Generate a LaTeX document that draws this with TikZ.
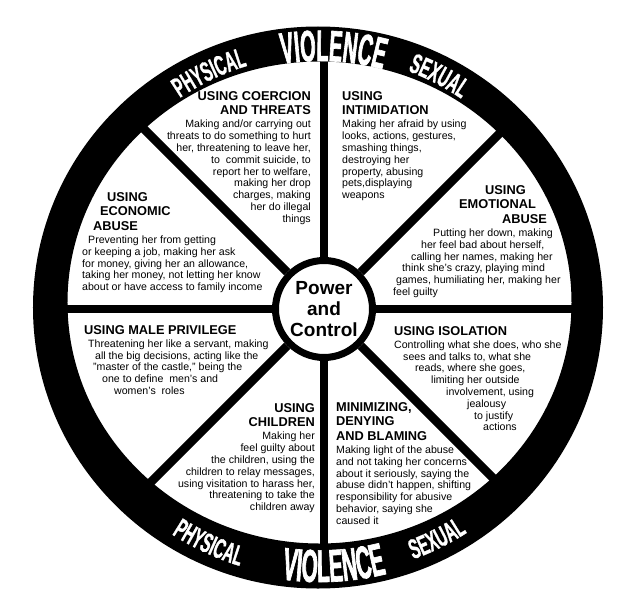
\documentclass[tikz,border=0pt]{standalone}
\usepackage{fontspec}
\setmainfont{Liberation Sans}
\newfontfamily\violencefont[FakeStretch=0.45,FakeBold=1.4]{Liberation Sans}
\newfontfamily\kindfont[FakeStretch=0.53,FakeBold=1]{Liberation Sans}
\usetikzlibrary{decorations.text}

\newcommand{\wedgehead}[1]{{\fontsize{12.8}{14.5}\selectfont\bfseries #1}}

\begin{document}
\begin{tikzpicture}[x=1pt, y=1pt,
  spoke/.style={line width=8.5pt},
  wedge/.style={inner sep=0pt, font=\fontsize{10.6}{11.8}\selectfont},
  ringword/.style={decorate, decoration={text along path, text align=center, text color=white, text={#1}}}]
  \useasboundingbox (-324,-291) rectangle (302,309);

  % Rim of the wheel
  \fill[even odd rule] (-6,1.5) ellipse [x radius=285, y radius=281]
    (-4.5,6.5) ellipse [x radius=252, y radius=241];
  \coordinate (wc) at (-4,4);

  % Hub
  \node[circle, draw, line width=7pt, minimum size=97pt, inner sep=0pt, align=center,
    font=\fontsize{19}{21}\selectfont\bfseries] (hub) at (0,0) {Power\\and\\Control};

  % Spokes
  \foreach \a in {0,45,...,315} {
    \coordinate (rim\a) at (\a:265);
    \draw[spoke] (hub) -- (rim\a);
  }

  % Lettering on the rim (top)
  \path[ringword={|\violencefont\bfseries\fontsize{44}{44}\selectfont|VIOLENCE}]
    ([shift={(wc)}]127:244) arc [start angle=127, end angle=47, radius=244];
  \path[ringword={|\kindfont\bfseries\fontsize{28}{28}\selectfont|PHYSICAL}]
    ([shift={(wc)}]155.5:250) arc [start angle=155.5, end angle=75.5, radius=250];
  \path[ringword={|\kindfont\bfseries\fontsize{28}{28}\selectfont|SEXUAL}]
    ([shift={(wc)}]102.5:250) arc [start angle=102.5, end angle=22.5, radius=250];

  % Lettering on the rim (bottom)
  \path[ringword={|\violencefont\bfseries\fontsize{46}{46}\selectfont|VIOLENCE}]
    ([shift={(wc)}]-127:277) arc [start angle=-127, end angle=-47, radius=277];
  \path[ringword={|\kindfont\bfseries\fontsize{28}{28}\selectfont|PHYSICAL}]
    ([shift={(wc)}]-155:273) arc [start angle=-155, end angle=-75, radius=273];
  \path[ringword={|\kindfont\bfseries\fontsize{28}{28}\selectfont|SEXUAL}]
    ([shift={(wc)}]-103.5:271) arc [start angle=-103.5, end angle=-23.5, radius=271];

  % Coercion and threats
  \node[wedge, anchor=north east, align=right] (coercion) at (-13,218) {%
    \wedgehead{USING COERCION}\\[2.8pt] \wedgehead{AND THREATS}\\[1.3pt]
    Making and/or carrying out\\ threats to do something to hurt\\
    her, threatening to leave her,\\ to~ commit suicide, to\\
    report her to welfare,\\ making her drop\\ charges, making\\
    her do illegal\\ things};

  % Intimidation
  \node[wedge, anchor=north west, align=left] (intimidation) at (18,218) {%
    \wedgehead{USING}\\[2.8pt] \wedgehead{INTIMIDATION}\\[1.3pt]
    Making her afraid by using\\ looks, actions, gestures,\\
    smashing things,\\ destroying her\\ property, abusing\\
    pets,displaying\\ weapons};

  % Emotional abuse
  \node[wedge, anchor=north west, align=left] (emotional) at (69,124) {%
    \hspace*{92pt}\wedgehead{USING}\\[2.8pt]
    \hspace*{66pt}\wedgehead{EMOTIONAL}\\[2.8pt]
    \hspace*{109pt}\wedgehead{ABUSE}\\[1.3pt]
    \hspace*{40pt}Putting her down, making\\
    \hspace*{28pt}her feel bad about herself,\\
    \hspace*{18pt}calling her names, making her\\
    \hspace*{9pt}think she's crazy, playing mind\\
    \hspace*{3pt}games, humiliating her, making her\\
    feel guilty};

  % Economic abuse
  \node[wedge, anchor=north west, align=left] (economic) at (-242,117) {%
    \hspace*{25pt}\wedgehead{USING}\\[2.8pt]
    \hspace*{18pt}\wedgehead{ECONOMIC}\\[2.8pt]
    \hspace*{11pt}\wedgehead{ABUSE}\\[1.3pt]
    \hspace*{6pt}Preventing her from getting\\
    or keeping a job, making her ask\\
    for money, giving her an allowance,\\
    taking her money, not letting her know\\
    about or have access to family income};

  % Male privilege
  \node[wedge, anchor=north west, align=left] (privilege) at (-240,-16) {%
    \wedgehead{USING MALE PRIVILEGE}\\[1.3pt]
    \hspace*{4pt}Threatening her like a servant, making\\
    \hspace*{11pt}all the big decisions, acting like the\\
    \hspace*{9pt}"master of the castle," being the\\
    \hspace*{18pt}one to define~ men's and\\
    \hspace*{30pt}women's~ roles};

  % Children
  \node[wedge, anchor=north east, align=right] (children) at (-9,-94) {%
    \wedgehead{USING}\\[2.8pt] \wedgehead{CHILDREN}\\[1.3pt]
    Making her\\ feel guilty about\\ the children, using the\\
    children to relay messages,\\ using visitation to harass her,\\
    threatening to take the\\ children away};

  % Minimizing, denying and blaming
  \node[wedge, anchor=north west, align=left] (minimizing) at (12,-93) {%
    \wedgehead{MINIMIZING,}\\[2.8pt] \wedgehead{DENYING}\\[2.8pt]
    \wedgehead{AND BLAMING}\\[1.3pt]
    Making light of the abuse\\ and not taking her concerns\\
    about it seriously, saying the\\ abuse didn't happen, shifting\\
    responsibility for abusive\\ behavior, saying she\\ caused it};

  % Isolation
  \node[wedge, anchor=north west, align=left] (isolation) at (70,-17) {%
    \wedgehead{USING ISOLATION}\\[1.3pt]
    Controlling what she does, who she\\
    \hspace*{9pt}sees and talks to, what she\\
    \hspace*{21pt}reads, where she goes,\\
    \hspace*{37pt}limiting her outside\\
    \hspace*{52pt}involvement, using\\
    \hspace*{73pt}jealousy\\
    \hspace*{80pt}to justify\\
    \hspace*{89pt}actions};
\end{tikzpicture}
\end{document}
